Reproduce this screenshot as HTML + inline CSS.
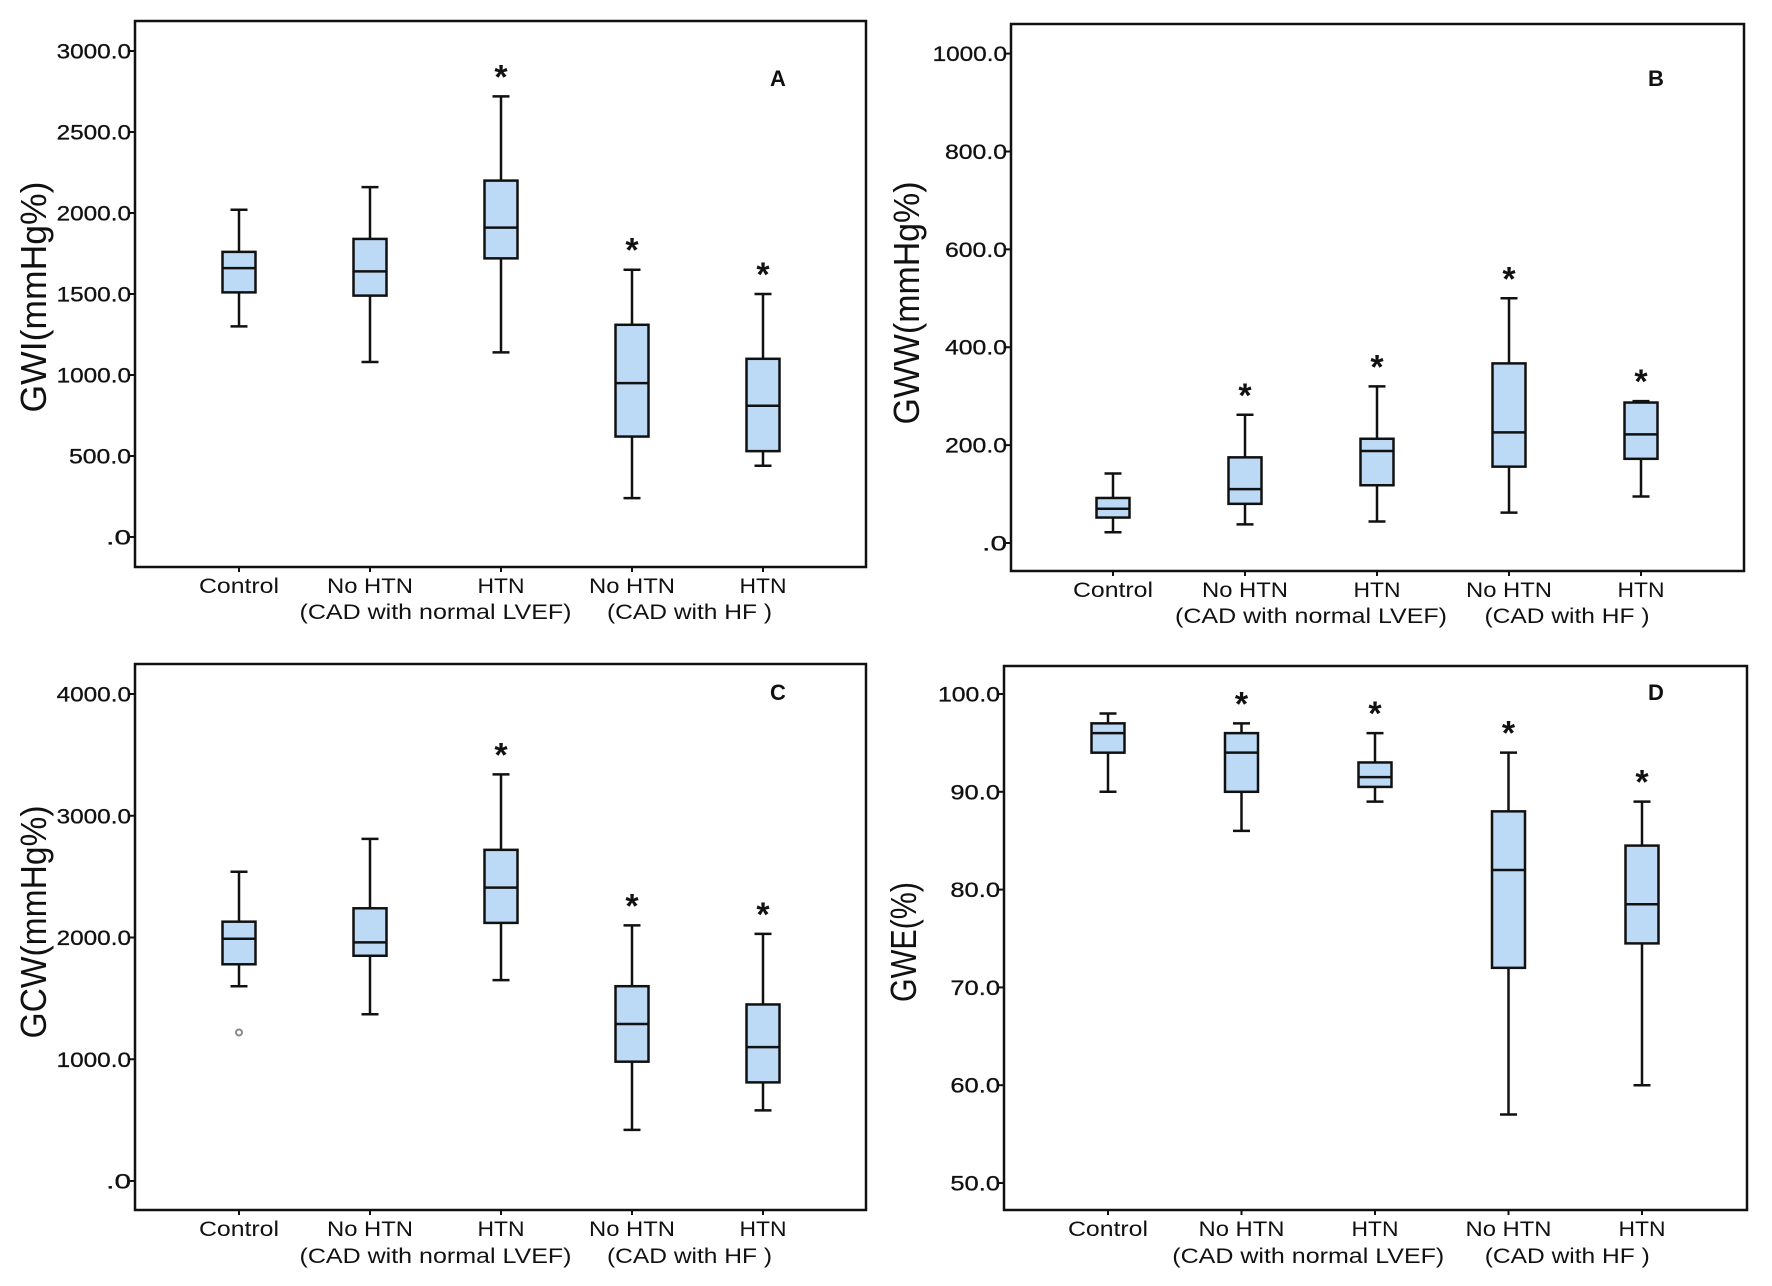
<!DOCTYPE html>
<html><head><meta charset="utf-8"><style>
html,body{margin:0;padding:0;background:#fff;overflow:hidden;}
svg{display:block;font-family:"Liberation Sans",Arial,sans-serif;}
</style></head><body>
<svg id="fig" width="1772" height="1286" viewBox="0 0 1772 1286"></svg>
<script>
// Shared categories
const categories = ["Control","No HTN","HTN","No HTN","HTN"];
// Panel A: GWI
const aWhiskerLow = [1300,1080,1140,240,440];
const aQ1 = [1510,1490,1720,620,530];
const aMedian = [1660,1640,1910,950,810];
const aQ3 = [1760,1840,2200,1310,1100];
const aWhiskerHigh = [2020,2160,2720,1650,1500];
const aStar = [false,false,true,true,true];
const aTicks = [0,500,1000,1500,2000,2500,3000];
const aTickLabels = [".0","500.0","1000.0","1500.0","2000.0","2500.0","3000.0"];
// Panel B: GWW
const bWhiskerLow = [22,38,44,62,95];
const bQ1 = [52,80,118,156,172];
const bMedian = [70,110,188,226,222];
const bQ3 = [92,175,213,367,287];
const bWhiskerHigh = [142,262,320,500,290];
const bStar = [false,true,true,true,true];
const bTicks = [0,200,400,600,800,1000];
const bTickLabels = [".0","200.0","400.0","600.0","800.0","1000.0"];
// Panel C: GCW
const cWhiskerLow = [1600,1370,1650,420,580];
const cQ1 = [1780,1850,2120,980,810];
const cMedian = [1990,1960,2410,1290,1100];
const cQ3 = [2130,2240,2720,1600,1450];
const cWhiskerHigh = [2540,2810,3340,2100,2030];
const cStar = [false,false,true,true,true];
const cOutliers = [[0,1220]];
const cTicks = [0,1000,2000,3000,4000];
const cTickLabels = [".0","1000.0","2000.0","3000.0","4000.0"];
// Panel D: GWE
const dWhiskerLow = [90,86,89,57,60];
const dQ1 = [94,90,90.5,72,74.5];
const dMedian = [96,94,91.5,82,78.5];
const dQ3 = [97,96,93,88,84.5];
const dWhiskerHigh = [98,97,96,94,89];
const dStar = [false,true,true,true,true];
const dTicks = [50,60,70,80,90,100];
const dTickLabels = ["50.0","60.0","70.0","80.0","90.0","100.0"];

const NS="http://www.w3.org/2000/svg";
const svg=document.getElementById('fig');
function mk(tag,attrs,parent){const e=document.createElementNS(NS,tag);for(const k in attrs)e.setAttribute(k,attrs[k]);(parent||svg).appendChild(e);return e;}

function panel(cfg){
  const g=mk('g',{});
  
  
  const y=v=>cfg.y0px+(v-cfg.v0)*(cfg.y1px-cfg.y0px)/(cfg.v1-cfg.v0);
  const x=i=>cfg.cx0+i*cfg.dx;
  const fr=mk('rect',{x:cfg.L,y:cfg.T,width:cfg.R-cfg.L,height:cfg.B-cfg.T,fill:'none',stroke:'#111','stroke-width':2.5},g);
  
  
  cfg.ticks.forEach((t,k)=>{
    const ty=y(t);
    const tk=mk('line',{x1:cfg.L-5,x2:cfg.L,y1:ty,y2:ty,stroke:'#111','stroke-width':2},g);
    
    
    const lab=cfg.tickLabels[k];
    const tl=mk('text',{x:cfg.L-4,y:ty+7.5,'text-anchor':'end','font-size':21,fill:'#111',stroke:'#111','stroke-width':0.3,textLength:12.4*lab.length,lengthAdjust:'spacingAndGlyphs'},g);
    tl.textContent=lab;
    
    
  });
  const yt=mk('text',{x:0,y:0,'text-anchor':'middle','font-size':36,fill:'#111',transform:`translate(${cfg.titleX},${cfg.titleY}) rotate(-90)`,textLength:cfg.titleLen,lengthAdjust:'spacingAndGlyphs'},g);
  yt.textContent=cfg.title;
  
  
  const bw=33,cw=17;
  const labLen={"Control":80,"No HTN":86,"HTN":47};
  for(let i=0;i<categories.length;i++){
    const cx=x(i);
    const bx=mk('g',{},g);
    
    
    mk('line',{x1:cx,x2:cx,y1:y(cfg.wl[i]),y2:y(cfg.q1[i]),stroke:'#111','stroke-width':2.5},bx);
    mk('line',{x1:cx,x2:cx,y1:y(cfg.q3[i]),y2:y(cfg.wh[i]),stroke:'#111','stroke-width':2.5},bx);
    mk('line',{x1:cx-cw/2,x2:cx+cw/2,y1:y(cfg.wl[i]),y2:y(cfg.wl[i]),stroke:'#111','stroke-width':2.5},bx);
    mk('line',{x1:cx-cw/2,x2:cx+cw/2,y1:y(cfg.wh[i]),y2:y(cfg.wh[i]),stroke:'#111','stroke-width':2.5},bx);
    mk('rect',{x:cx-bw/2,y:y(cfg.q3[i]),width:bw,height:y(cfg.q1[i])-y(cfg.q3[i]),fill:'#bcdaf5',stroke:'#111','stroke-width':2.5},bx);
    mk('line',{x1:cx-bw/2,x2:cx+bw/2,y1:y(cfg.med[i]),y2:y(cfg.med[i]),stroke:'#111','stroke-width':2.5},bx);
    const xt=mk('line',{x1:cx,x2:cx,y1:cfg.B,y2:cfg.B+5,stroke:'#111','stroke-width':2},g);
    
    
    const lb=mk('text',{x:cx,y:cfg.xl1,'text-anchor':'middle','font-size':21,fill:'#111',textLength:labLen[categories[i]],lengthAdjust:'spacingAndGlyphs'},g);
    lb.textContent=categories[i];
    
    
    if(cfg.star[i]){
      const st=mk('text',{x:cx,y:y(cfg.wh[i])-8,'text-anchor':'middle','font-size':34,'font-weight':'bold',fill:'#111'},g);
      st.textContent='*';
      
      
    }
  }
  (cfg.outliers||[]).forEach(o=>{
    const c=mk('circle',{cx:x(o[0]),cy:y(o[1]),r:3,fill:'none',stroke:'#888','stroke-width':2},g);
    
    
  });
  const g1=mk('text',{x:(x(1)+x(2))/2,y:cfg.xl2,'text-anchor':'middle','font-size':21,fill:'#111',textLength:272,lengthAdjust:'spacingAndGlyphs'},g);
  g1.textContent='(CAD with normal LVEF)';
  
  
  const g2=mk('text',{x:(x(3)+x(4))/2-8,y:cfg.xl2,'text-anchor':'middle','font-size':21,fill:'#111',textLength:165,lengthAdjust:'spacingAndGlyphs'},g);
  g2.textContent='(CAD with HF )';
  
  
  const pl=mk('text',{x:cfg.letX,y:cfg.letY,'text-anchor':'middle','font-size':22,'font-weight':'bold',fill:'#111'},g);
  pl.textContent=cfg.letter;
  
  
}

panel({name:'panel-a-gwi',L:135,R:866,T:21,B:567,v0:0,v1:3000,y0px:537,y1px:51,cx0:239,dx:131,
  wl:aWhiskerLow,q1:aQ1,med:aMedian,q3:aQ3,wh:aWhiskerHigh,star:aStar,ticks:aTicks,tickLabels:aTickLabels,
  title:'GWI(mmHg%)',titleX:46,titleY:297,titleLen:231,xl1:593,xl2:619,letter:'A',letX:778,letY:86});
panel({name:'panel-b-gww',L:1011,R:1744,T:24,B:571,v0:0,v1:1000,y0px:543,y1px:53.6,cx0:1113,dx:132,
  wl:bWhiskerLow,q1:bQ1,med:bMedian,q3:bQ3,wh:bWhiskerHigh,star:bStar,ticks:bTicks,tickLabels:bTickLabels,
  title:'GWW(mmHg%)',titleX:919,titleY:303,titleLen:243,xl1:597,xl2:623,letter:'B',letX:1656,letY:86});
panel({name:'panel-c-gcw',L:135,R:866,T:664,B:1210,v0:0,v1:4000,y0px:1181,y1px:694,cx0:239,dx:131,
  wl:cWhiskerLow,q1:cQ1,med:cMedian,q3:cQ3,wh:cWhiskerHigh,star:cStar,outliers:cOutliers,ticks:cTicks,tickLabels:cTickLabels,
  title:'GCW(mmHg%)',titleX:46,titleY:922,titleLen:233,xl1:1236,xl2:1263,letter:'C',letX:778,letY:700});
panel({name:'panel-d-gwe',L:1004,R:1747,T:666,B:1210,v0:50,v1:100,y0px:1183,y1px:694,cx0:1108,dx:133.5,
  wl:dWhiskerLow,q1:dQ1,med:dMedian,q3:dQ3,wh:dWhiskerHigh,star:dStar,ticks:dTicks,tickLabels:dTickLabels,
  title:'GWE(%)',titleX:916,titleY:942,titleLen:120,xl1:1236,xl2:1263,letter:'D',letX:1656,letY:700});
</script>
</body></html>
